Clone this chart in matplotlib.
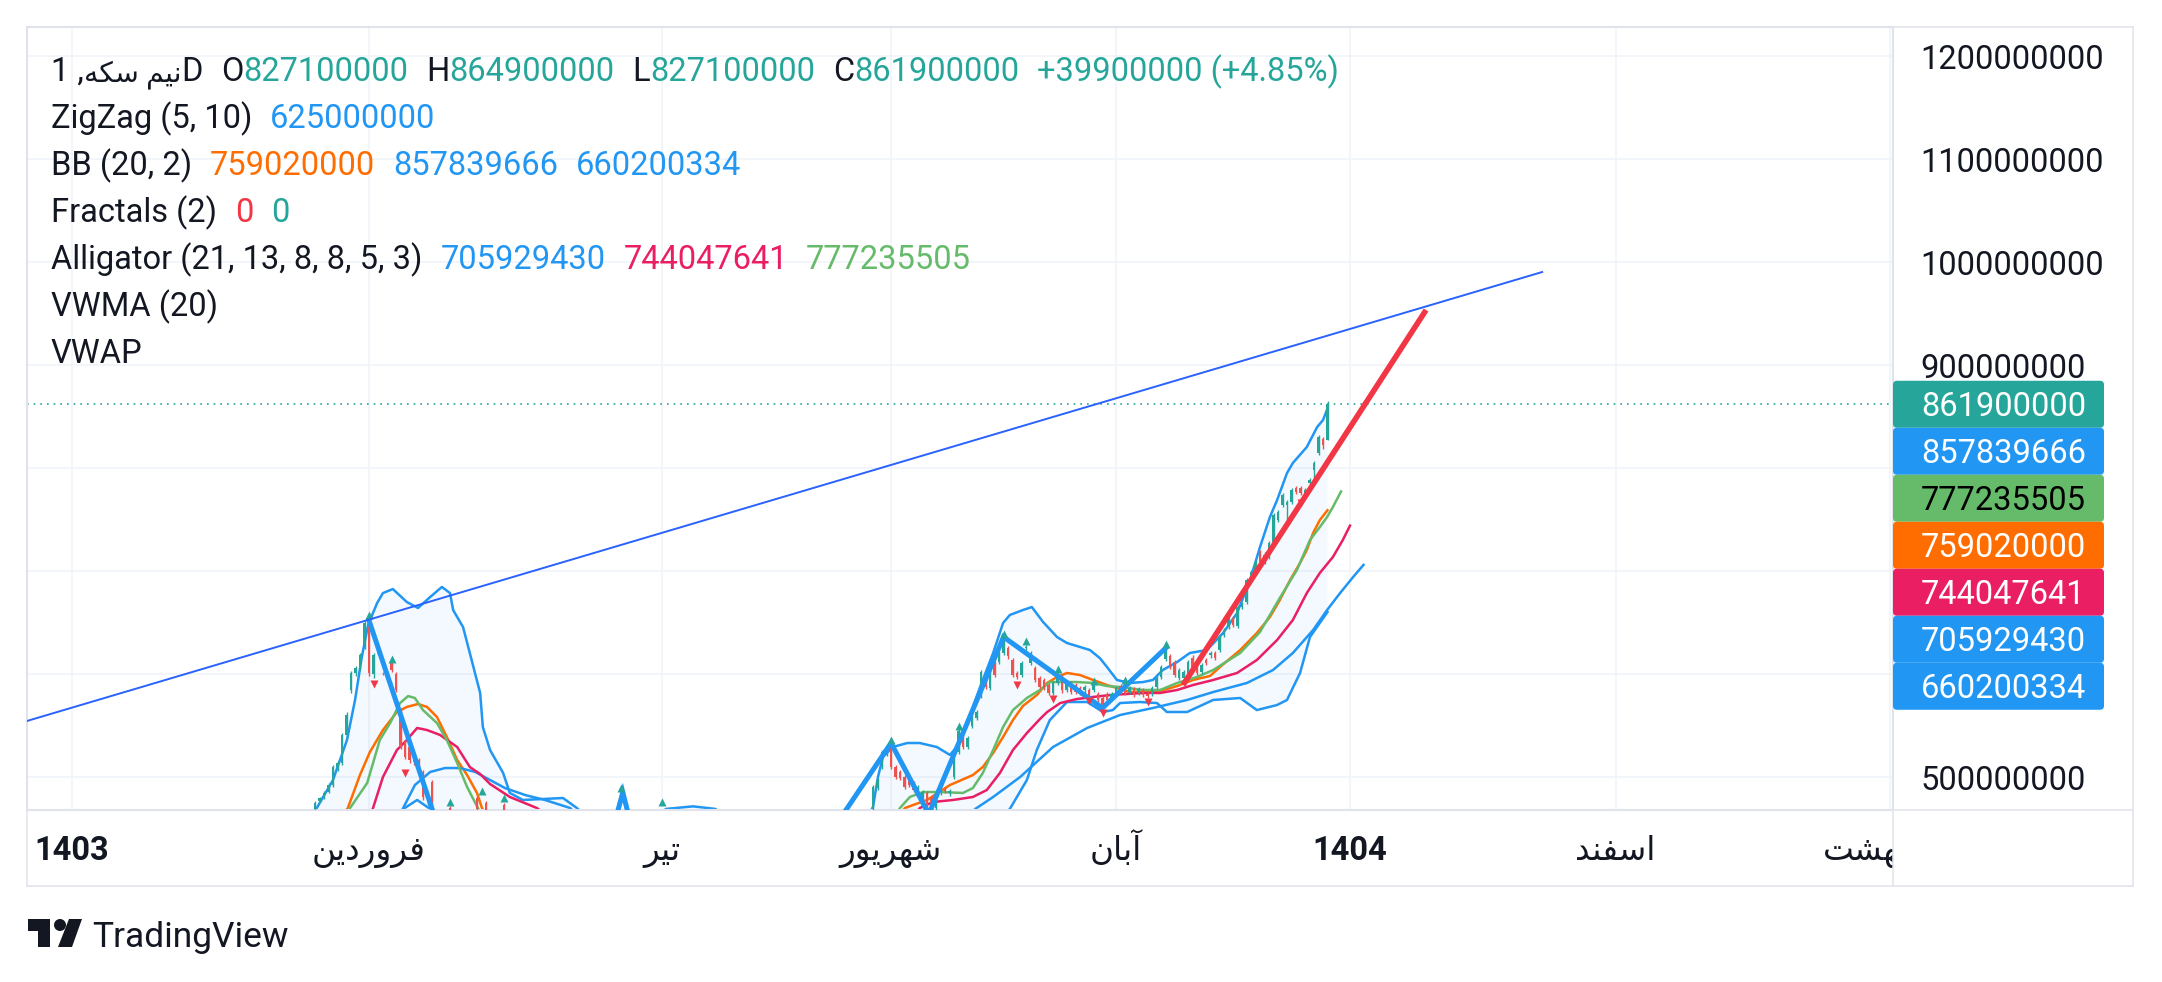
#!/usr/bin/env python3
"""
Daily chart of نیم سکه in the TradingView style: candles, Bollinger Bands,
Alligator, ZigZag, Fractals and two hand drawn trend lines.
"""
import matplotlib
matplotlib.use('Agg')
import matplotlib.pyplot as plt
from matplotlib.patches import FancyBboxPatch, Polygon, Circle
from matplotlib.lines import Line2D
from matplotlib.transforms import IdentityTransform, Bbox, TransformedBbox, blended_transform_factory
from matplotlib.ticker import FixedFormatter

W, H = 2162, 982
M = 1e6

# ---- candles (bar index, prices in millions) ----
candle_bar = [64, 65, 66, 67, 68, 69, 70, 71, 72, 73, 74, 75, 76, 77, 78, 79, 81, 82, 83, 84,
              85, 86, 87, 88, 89, 90, 94, 100, 102, 106,
              188, 189, 190, 191, 192, 193, 194, 195, 196, 197, 198, 199, 200, 201, 202, 203,
              204, 205, 206, 207, 208, 209, 210, 211, 212, 213, 214, 215, 216, 217, 218, 219,
              220, 221, 222, 223, 224, 225, 226, 227, 228, 229, 230, 231, 232, 233, 234, 235,
              236, 237, 238, 239, 240, 241, 242, 243, 244, 245, 246, 247, 248, 249, 250, 251,
              252, 253, 254, 255, 256, 257, 258, 259, 260, 261, 262, 263, 264, 265, 266, 267,
              268, 269, 270, 271, 272, 273, 274, 275, 276, 277, 278, 279, 280, 281, 282, 283,
              284, 285, 286, 287, 288, 289]
candle_open = [469, 477, 480, 485, 492, 510, 514, 541, 584, 601, 606, 628, 650, 600, 620, 601, 611, 600, 565, 534,
               529, 521, 516.5, 505, 474.5, 495, 470, 480, 475, 473,
               470, 489, 510, 524, 531, 510, 505, 500, 497, 494, 485, 480, 484, 480, 470, 485,
               487, 484, 500, 524, 543, 529, 550, 557, 580, 596, 586, 611, 612, 620, 625, 614,
               601, 599, 625, 611, 606, 596, 594, 589, 582, 591, 597, 584, 591, 589, 586, 584,
               584, 584, 581, 577, 581, 577, 580, 588, 589, 583, 585, 582, 584, 581, 581, 587,
               597, 615, 617, 612, 596, 596, 601, 616, 612, 602, 614, 618, 620, 623, 638, 646,
               654, 647, 665, 670, 691, 701, 718, 709, 714, 728, 750, 764, 764, 767, 781, 781,
               772, 785, 798, 815, 828, 827.1]
candle_high = [477, 481, 486, 494, 512, 516, 543, 563, 603, 608, 620, 651, 652, 620, 627, 602, 613, 602, 567, 536,
               531, 523, 518, 507, 477, 497, 472, 482, 477, 475,
               492, 499, 526, 531, 533, 512, 507, 502, 499, 496, 492, 487, 486, 482, 484, 488,
               490, 488, 519, 548, 546, 540, 564, 565, 604, 598, 609, 613, 622, 636, 627, 616,
               603, 613, 628, 622, 608, 598, 596, 591, 593, 601, 599, 594, 593, 591, 588, 589,
               586, 591, 583, 579, 583, 583, 588, 590, 592, 588, 587, 587, 586, 583, 588, 598,
               609, 625, 619, 614, 606, 604, 614, 618, 614, 611, 616, 622, 622, 638, 645, 657,
               656, 667, 670, 693, 701, 711, 720, 718, 729, 756, 759, 776, 769, 781, 783, 783,
               781, 790, 807, 832, 830, 864.9]
candle_low = [466, 476, 479, 484, 490, 506, 512, 538, 582, 598, 604, 624, 598, 596, 618, 599, 602, 583, 527, 517,
              514, 512, 508, 478, 473, 467, 460, 466, 466, 465,
              466, 487, 508, 520, 508, 498, 497, 488, 490, 485, 483, 478, 464, 468, 468, 483,
              484, 482, 498, 522, 527, 527, 548, 555, 577, 585, 584, 597, 610, 618, 615, 597,
              595, 597, 623, 609, 592, 585, 584, 580, 580, 589, 582, 583, 581, 581, 580, 582,
              576, 583, 573, 567, 573, 575, 578, 581, 580, 581, 578, 580, 578, 577, 579, 585,
              595, 613, 605, 597, 594, 594, 599, 605, 599, 600, 609, 616, 614, 621, 636, 644,
              646, 645, 663, 668, 689, 699, 707, 707, 712, 726, 748, 762, 750, 765, 775, 774,
              770, 783, 790, 813, 818, 827.1]
candle_close = [475, 480, 484, 492, 510, 514, 541, 560, 601, 606, 618, 650, 601, 618, 625, 600.5, 604, 584.5, 529, 519,
                516.5, 514.6, 509.7, 480.6, 475, 470, 462, 469, 468, 467,
                490, 497, 524, 528, 510, 500, 499, 490, 492, 487, 490, 485, 470, 470, 482, 487,
                486, 486, 516, 545, 529, 538, 562, 563, 602, 587, 607, 599, 620, 633, 617, 599,
                597, 611, 626, 620, 594, 587, 586, 582, 591, 599, 584, 592, 583, 583, 582, 587,
                578, 589, 575, 568, 575, 581, 586, 583, 582, 586, 580, 585, 580, 579, 586, 596,
                607, 624, 607, 599, 604, 602, 612, 607, 601, 609, 611, 620, 616, 636, 643, 655,
                648, 665, 668, 691, 699, 709, 709, 716, 727, 754, 757, 774, 767, 779, 777, 776,
                779, 788, 805, 830, 822, 861.9]

# ---- Bollinger Bands (20, 2) ----
bb_up_x = [62, 64.4, 68.0, 71.1, 72.9, 74.4, 75.8, 77.8, 79.1, 81.3, 84.4, 86.9, 89.6, 92.2, 94.0, 94.7,
           96.9, 98.4, 100.7, 101.3, 102.9, 105.8, 107.3, 110.2, 119.1, 122.2, 126, 138, 142, 148, 153,
           157, 180, 186, 188.0, 189.1, 190.2, 192.4, 195.6, 198.4, 202.2, 205.1, 207.3, 211.8, 214.7,
           216.9, 218.4, 221.3, 223.3, 225.8, 228.9, 231.1, 236.2, 238.4, 240.0, 242.2, 245.1, 248.0,
           250.2, 252.4, 255.6, 258.4, 262.2, 265.8, 268.9, 271.8, 274.0, 276.2, 277.8, 280.0, 281.3,
           284.4, 286.7, 288.0, 289]
bb_up_v = [440, 469.9, 497.1, 535.9, 574.8, 616.5, 647.6, 668.9, 678.6, 682.5, 669.9, 664.1, 674.8, 684.5,
           678.6, 662.1, 645.6, 620.4, 581.6, 548.5, 526.2, 504.0, 484.5, 477.7, 479.6, 469.9, 455, 455,
           469, 471.5, 469, 452, 445, 455, 470.9, 500.0, 519.4, 529.1, 533.0, 533.0, 529.1, 521.4, 533.0,
           587.4, 620.4, 649.5, 657.3, 662.1, 665.0, 650.5, 635.9, 630.1, 623.3, 615.5, 606.8, 594.2,
           591.3, 592.2, 594.2, 603.9, 611.7, 620.4, 623.3, 639.8, 659.2, 691.3, 723.3, 752.4, 768.9,
           795.1, 804.9, 820.4, 839.8, 846.6, 857.839666]
bb_mid_x = [66, 71.3, 74.0, 76.2, 79.1, 82.2, 84.4, 86.9, 88.9, 91.1, 93.3, 95.6, 97.8, 100.0, 101.1, 104,
            190, 195.1, 200.0, 205.1, 210.2, 212.4, 214.7, 216.9, 219.1, 221.3, 224.4, 226.7, 228.9,
            231.1, 234.0, 236.9, 240.0, 242.2, 245.1, 248.0, 251.8, 255.6, 259.1, 262.9, 265.1, 269.6,
            273.3, 276.2, 278.4, 280.7, 282.9, 284.4, 285.8, 287.3, 289]
bb_mid_v = [440, 469.9, 502.0, 524.3, 545.6, 563.1, 568.0, 570.9, 568.0, 558.3, 538.8, 516.5, 501.9, 484.5,
            469.9, 450, 440, 469.9, 477.7, 492.2, 501.9, 509.7, 523.3, 538.8, 555.3, 568.9, 579.6, 591.3,
            597.1, 601.0, 599.0, 594.2, 589.3, 586.4, 582.5, 582.5, 583.5, 588.3, 594.2, 598.1, 606.8,
            623.3, 639.8, 655.3, 671.8, 691.3, 707.8, 720.4, 736.9, 749.5, 759.02]
bb_lo_x = [62, 80, 83.6, 86.7, 89.6, 92, 100, 110, 122, 150, 180, 200, 210, 218.4, 222.2, 224.4, 227.3,
           231.1, 235.6, 239.1, 241.3, 242.9, 247.3, 251.1, 253.3, 257.8, 263.6, 269.6, 273.3, 277.8,
           280.0, 282.9, 285.1, 289]
bb_lo_v = [380, 430, 468.9, 477.7, 468.9, 440, 400, 420, 440, 445, 420, 420, 440, 468.9, 497.1, 526.2,
           555.3, 572.8, 572.8, 563.1, 565.0, 571.8, 572.8, 571.8, 563.1, 563.1, 574.8, 576.7, 565.0,
           569.9, 574.8, 601.0, 635.9, 660.200334]

# ---- Alligator (jaw / teeth / lips) ----
jaw_x = [80, 83.6, 86.2, 89.6, 92.9, 96.2, 99.6, 102.9, 106.2, 110.7, 115.1, 120.7, 125,
         205, 210.7, 214.7, 220.7, 228.0, 235.6, 242.9, 250.2, 257.8, 263.6, 271.1, 276.9, 281.3,
         285.8, 288.9, 291.8, 294.7, 297]
jaw_v = [440, 469.9, 492.2, 504.9, 508.7, 508.7, 504.9, 497.1, 489.3, 482.5, 477.7, 469.9, 450,
         440, 468.9, 480.6, 500.0, 529.1, 547.6, 560.2, 567.0, 574.8, 582.5, 591.3, 603.9, 620.4,
         642.7, 662.1, 678.6, 694.2, 705.92943]
teeth_x = [74, 76.9, 79.1, 82.2, 84.4, 86.7, 88.9, 91.8, 95.6, 98.4, 100.7, 102.9, 107.3, 113.3, 118,
           195, 198.4, 201.3, 205.8, 210.2, 213.3, 216.2, 219.1, 222.2, 225.1, 226.7, 229.6, 233.3,
           236.9, 240.7, 248.0, 251.8, 255.6, 259.1, 263.6, 268.9, 273.3, 277.8, 281.3, 284.4, 287.3,
           290.2, 292.4, 294]
teeth_v = [440, 469.9, 500.0, 526.2, 535.9, 547.6, 545.6, 540.8, 529.1, 509.7, 502.9, 493.2, 480.6,
           469.9, 455, 450, 469.9, 475.7, 477.7, 480.6, 487.4, 503.9, 526.2, 542.7, 556.3, 563.1,
           571.8, 575.7, 577.7, 579.6, 581.6, 581.6, 584.5, 589.3, 594.2, 601.0, 613.6, 633.0, 652.4,
           678.6, 698.1, 713.6, 730.1, 744.047641]
lips_x = [68, 71.8, 75.6, 78.4, 80.7, 82.9, 84.7, 86.2, 88.0, 91.1, 93.3, 95.6, 97.8, 100.2, 103,
          190, 194.0, 196.2, 199.1, 202.9, 208.0, 210.2, 212.4, 214.7, 216.9, 219.1, 222.2, 225.1,
          227.3, 233.3, 236.9, 240.0, 242.9, 248.0, 251.8, 255.6, 260.0, 263.6, 269.6, 274.0, 278.4,
          282.2, 285.1, 287.3, 288.9, 290.2, 292]
lips_v = [440, 469.9, 494.2, 535.9, 552.4, 571.8, 578.6, 576.7, 565.0, 552.4, 535.9, 513.6, 490.3, 469.9,
          450, 445, 469.9, 480.6, 485.4, 485.4, 484.5, 489.3, 503.9, 526.2, 548.5, 565.0, 576.7, 584.5,
          592.2, 592.2, 591.3, 588.3, 587.4, 584.5, 584.5, 591.3, 597.1, 603.9, 620.4, 640.8, 673.8,
          701.0, 730.1, 742.7, 752.4, 762.1, 777.235505]

# ---- ZigZag (5, 10) pivots ----
zz_x = [76, 93, 129, 132.4, 135.6, 176, 192, 200.4, 217, 239, 253]
zz_v = [652, 430, 430, 485, 430, 429, 533, 464, 636, 567, 625]

# ---- Fractals (2) ----
frac_up_x = [76, 81, 94, 101, 106, 132, 141, 192, 207, 217, 222, 229, 237, 244, 253]
frac_up_v = [657, 615, 476, 486, 480, 489, 476, 536, 550, 639, 632, 605, 593, 594, 629]
frac_dn_x = [77, 84, 220, 228, 236, 239, 249, 283]
frac_dn_v = [590, 504, 589, 576, 574, 562, 573, 766]

# ---- drawings ----
trend_x = [0, 336.7]
trend_v = [554.4, 990.3]
red_x = [256.9, 310.9]
red_v = [589.3, 953.4]

# ---- last values (legend and price scale) ----
ohlc_last = [827100000, 864900000, 827100000, 861900000]
change_abs = 39900000
change_pct = 4.85
zigzag_last = 625000000
bb_last = [759020000, 857839666, 660200334]
fractal_last = [0, 0]
alligator_last = [705929430, 744047641, 777235505]

# ---- axes labels ----
x_tick_bars = [10, 76, 141, 192, 242, 294, 353, 414]
x_tick_labels = ['1403', 'فروردین', 'تیر', 'شهریور', 'آبان', '1404', 'اسفند', 'اردیبهشت']
x_tick_bold = [True, False, False, False, False, True, False, False]
price_ticks = [500, 600, 700, 800, 900, 1000, 1100, 1200]
# 600-800 sit under the last-value labels on the price scale
price_tick_labels = ['500000000', '', '', '', '900000000', '1000000000', '1100000000', '1200000000']

DARK = '#131722'
UP = '#26A69A'
DOWN = '#EF5350'
BLUE = '#2196F3'
ORANGE = '#FF6D00'
PINK = '#E91E63'
GREEN = '#66BB6A'
RED = '#F23645'
TREND = '#2962FF'
BORDER = '#E0E3EB'
GRID = '#F0F3FA'
FS = 23.5

# simple Persian shaping (matplotlib has no complex text layout)
FORMS = {  # isolated, final, initial, medial
    'ا': ('\uFE8D', '\uFE8E', None, None),
    'آ': ('\uFE81', '\uFE82', None, None),
    'ب': ('\uFE8F', '\uFE90', '\uFE91', '\uFE92'),
    'ت': ('\uFE95', '\uFE96', '\uFE97', '\uFE98'),
    'د': ('\uFEA9', '\uFEAA', None, None),
    'ر': ('\uFEAD', '\uFEAE', None, None),
    'س': ('\uFEB1', '\uFEB2', '\uFEB3', '\uFEB4'),
    'ش': ('\uFEB5', '\uFEB6', '\uFEB7', '\uFEB8'),
    'ف': ('\uFED1', '\uFED2', '\uFED3', '\uFED4'),
    'م': ('\uFEE1', '\uFEE2', '\uFEE3', '\uFEE4'),
    'ن': ('\uFEE5', '\uFEE6', '\uFEE7', '\uFEE8'),
    'ه': ('\uFEE9', '\uFEEA', '\uFEEB', '\uFEEC'),
    'و': ('\uFEED', '\uFEEE', None, None),
    'ی': ('\uFBFC', '\uFBFD', '\uFBFE', '\uFBFF'),
    'ک': ('\uFB8E', '\uFB8F', '\uFB90', '\uFB91'),
}


def shape(word):
    if not any(ch in FORMS for ch in word):
        return word
    out = []
    for i, ch in enumerate(word):
        if ch not in FORMS:
            out.append(ch)
            continue
        prev = word[i - 1] if i > 0 else ''
        nxt = word[i + 1] if i + 1 < len(word) else ''
        join_prev = prev in FORMS and FORMS[prev][2] is not None
        join_next = nxt in FORMS and FORMS[ch][2] is not None
        iso, fin, ini, med = FORMS[ch]
        if join_prev and join_next:
            out.append(med)
        elif join_prev:
            out.append(fin)
        elif join_next:
            out.append(ini)
        else:
            out.append(iso)
    return ''.join(reversed(out))


def mil(vals):
    return [v * M for v in vals]


plt.rcParams['font.family'] = ['Roboto', 'DejaVu Sans']
fig = plt.figure(figsize=(W / 100, H / 100), dpi=100)
fig.patch.set_facecolor('white')
PX = IdentityTransform()

L, R, T, B = 27, 1893, 27, 810
BAR_PX = 4.5
ax = fig.add_axes([L / W, 1 - B / H, (R - L) / W, (B - T) / H])
ax.set_xlim(0, (R - L) / BAR_PX)
ax.set_ylim(467.96 * M, 1228.2 * M)

ax.set_xticks(x_tick_bars)
ax.set_xticklabels([])
ax.set_yticks(mil(price_ticks))
ax.yaxis.set_major_formatter(FixedFormatter(price_tick_labels))
ax.yaxis.tick_right()
ax.tick_params(axis='x', length=0)
ax.tick_params(axis='y', length=0, pad=20, labelsize=FS, labelcolor=DARK)
ax.grid(True, color=GRID, lw=1.2)
ax.set_axisbelow(True)
for sp in ax.spines.values():
    sp.set_color(BORDER)
    sp.set_linewidth(1.5)

# Bollinger fill + lines
ax.fill(bb_up_x + bb_lo_x[::-1], mil(bb_up_v + bb_lo_v[::-1]), color=BLUE, alpha=0.05, lw=0, zorder=1)
ax.plot(bb_up_x, mil(bb_up_v), color=BLUE, lw=1.8, zorder=2)
ax.plot(bb_lo_x, mil(bb_lo_v), color=BLUE, lw=1.8, zorder=2)
ax.plot(bb_mid_x, mil(bb_mid_v), color=ORANGE, lw=1.8, zorder=2)

# Alligator
ax.plot(jaw_x, mil(jaw_v), color=BLUE, lw=1.8, zorder=2)
ax.plot(teeth_x, mil(teeth_v), color=PINK, lw=1.8, zorder=2)
ax.plot(lips_x, mil(lips_v), color=GREEN, lw=1.8, zorder=2)

# candles
ccol = [UP if c >= o else DOWN for o, c in zip(candle_open, candle_close)]
ax.vlines(candle_bar, mil(candle_low), mil(candle_high), colors=ccol, lw=1.0, zorder=3)
ax.bar(candle_bar, [(c - o) * M for o, c in zip(candle_open, candle_close)],
       bottom=mil(candle_open), width=0.62, color=ccol, lw=0, zorder=3)

# zigzag
ax.plot(zz_x, mil(zz_v), color=BLUE, lw=3.6, solid_joinstyle='miter', zorder=4)

# fractals
ax.plot(frac_up_x, mil(frac_up_v), ls='none', marker='^', ms=6, color=UP, mec='none', zorder=4)
ax.plot(frac_dn_x, mil(frac_dn_v), ls='none', marker='v', ms=6, color=RED, mec='none', zorder=4)

# drawings
ax.plot(trend_x, mil(trend_v), color=TREND, lw=1.4, zorder=5)
ax.plot(red_x, mil(red_v), color=RED, lw=4.0, solid_capstyle='butt', zorder=5)

# last price line
ax.axhline(ohlc_last[3], color=UP, lw=1.2, ls=(0, (1, 3)), zorder=2)

# x axis labels, clipped to the time strip under the plot
bt = blended_transform_factory(ax.transData, ax.transAxes)
strip = TransformedBbox(Bbox([[0, -1], [1, 0]]), ax.transAxes)
for xb, lab, bold in zip(x_tick_bars, x_tick_labels, x_tick_bold):
    t = ax.text(xb, -(860 - B) / (B - T), shape(lab), transform=bt, ha='center', va='baseline',
                fontsize=FS, color=DARK, fontweight='bold' if bold else 'normal', clip_on=True)
    t.set_clip_box(strip)

# frame of the price scale and time strip
for (x0, y0, x1, y1) in [(R, T, 2133, T), (2133, T, 2133, 886), (L, 886, 2133, 886),
                         (L, B, L, 886), (R, B, R, 886), (R, B, 2133, B)]:
    fig.add_artist(Line2D([x0, x1], [H - y0, H - y1], transform=PX, color=BORDER, lw=1.1))

# price scale labels for the last values
box_vals = [ohlc_last[3], bb_last[1], alligator_last[2], bb_last[0], alligator_last[1],
            alligator_last[0], bb_last[2]]
box_cols = [UP, BLUE, GREEN, ORANGE, PINK, BLUE, BLUE]
box_txt = ['white', 'white', 'black', 'white', 'white', 'white', 'white']
BOX_H = 47
prev_c = -1e9
for v, col, tc in zip(box_vals, box_cols, box_txt):
    yc = H - ax.transData.transform((0, v))[1]
    yc = max(yc, prev_c + BOX_H)
    prev_c = yc
    fig.add_artist(FancyBboxPatch((R, H - yc - BOX_H / 2), 2104 - R, BOX_H,
                                  boxstyle='round,pad=0,rounding_size=4', transform=PX,
                                  fc=col, ec='none', zorder=5))
    fig.text(1921, H - yc - 11.5, f'{v:.0f}', transform=PX, color=tc, fontsize=FS,
             ha='left', va='baseline', zorder=6)

# legend rows
renderer = fig.canvas.get_renderer()


def draw_row(py_base, parts, x0=51, gap=18):
    x = x0
    for s, color, sep, size in parts:
        if sep:
            x += gap
        t = fig.text(x, H - py_base, s, transform=PX, color=color, fontsize=size,
                     ha='left', va='baseline')
        x = t.get_window_extent(renderer).x1


rows = [
    [('1 ,', DARK, False, FS), (shape('نیم سکه'), DARK, False, 20.5), ('D', DARK, False, FS),
     ('O', DARK, True, FS), (f'{ohlc_last[0]}', UP, False, FS),
     ('H', DARK, True, FS), (f'{ohlc_last[1]}', UP, False, FS),
     ('L', DARK, True, FS), (f'{ohlc_last[2]}', UP, False, FS),
     ('C', DARK, True, FS), (f'{ohlc_last[3]}', UP, False, FS),
     (f'+{change_abs} (+{change_pct:.2f}%)', UP, True, FS)],
    [('ZigZag (5, 10)', DARK, False, FS), (f'{zigzag_last}', BLUE, True, FS)],
    [('BB (20, 2)', DARK, False, FS), (f'{bb_last[0]}', ORANGE, True, FS),
     (f'{bb_last[1]}', BLUE, True, FS), (f'{bb_last[2]}', BLUE, True, FS)],
    [('Fractals (2)', DARK, False, FS), (f'{fractal_last[0]}', RED, True, FS),
     (f'{fractal_last[1]}', UP, True, FS)],
    [('Alligator (21, 13, 8, 8, 5, 3)', DARK, False, FS), (f'{alligator_last[0]}', BLUE, True, FS),
     (f'{alligator_last[1]}', PINK, True, FS), (f'{alligator_last[2]}', GREEN, True, FS)],
    [('VWMA (20)', DARK, False, FS)],
    [('VWAP', DARK, False, FS)],
]
for i, parts in enumerate(rows):
    draw_row(81 + 47 * i, parts)

# TradingView logo
fig.add_artist(Polygon([(28, H - 919), (50, H - 919), (50, H - 947), (38, H - 947), (38, H - 931),
                        (28, H - 931)], closed=True, transform=PX, fc=DARK, ec='none'))
fig.add_artist(Circle((60, H - 925), 6, transform=PX, fc=DARK, ec='none'))
fig.add_artist(Polygon([(69, H - 919), (82, H - 919), (72, H - 947), (58, H - 947)], closed=True,
                       transform=PX, fc=DARK, ec='none'))
fig.text(92, H - 947, 'TradingView', transform=PX, color=DARK, fontsize=25.5, ha='left', va='baseline')

fig.savefig('out.png', dpi=100, facecolor='white')
